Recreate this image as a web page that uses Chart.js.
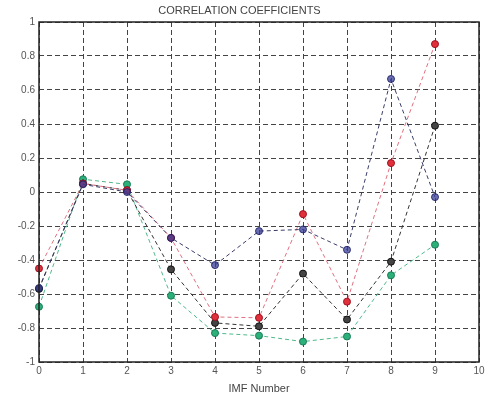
<!DOCTYPE html>
<html><head><meta charset="utf-8">
<script src="https://cdn.jsdelivr.net/npm/chart.js@4/dist/chart.umd.min.js"></script>
<style>html,body{margin:0;padding:0;background:#fff}#wrap{width:502px;height:396px}</style>
</head><body><div id="wrap"><canvas id="c"></canvas></div>
<script>
const imf = [0,1,2,3,4,5,6,7,8,9];
const xTicks = [0,1,2,3,4,5,6,7,8,9,10];
const yTicks = [-1,-0.8,-0.6,-0.4,-0.2,0,0.2,0.4,0.6,0.8,1];
const greenVals = [-0.675,0.075,0.045,-0.61,-0.83,-0.845,-0.88,-0.85,-0.49,-0.31];
const blackVals = [-0.57,0.05,0.01,-0.455,-0.77,-0.79,-0.48,-0.75,-0.41,0.39];
const blueVals  = [-0.565,0.045,0.0,-0.27,-0.43,-0.23,-0.22,-0.34,0.665,-0.03];
const redVals   = [-0.45,0.05,0.01,-0.27,-0.735,-0.74,-0.13,-0.645,0.17,0.87];

function ds(vals, line, fill, edge){
  return {data: imf.map((x,i)=>({x:x,y:vals[i]})), borderColor: line, borderWidth: 1,
    borderDash:[4,3], backgroundColor: fill, pointBackgroundColor: fill, pointBorderColor: edge,
    pointBorderWidth: 1, pointRadius: 3.5, pointStyle:'circle', showLine:true, fill:false, tension:0, clip:false};
}
const frame = {id:'frame', afterDatasetsDraw(c){
  const a=c.chartArea, ctx=c.ctx; ctx.save(); ctx.strokeStyle='#222'; ctx.lineWidth=1.5; ctx.setLineDash([]);
  ctx.strokeRect(a.left,a.top,a.right-a.left,a.bottom-a.top); ctx.restore();}};
const font = {family:'Liberation Sans, Arial, sans-serif', size:10};
new Chart(document.getElementById('c'), {
  type:'scatter',
  data:{datasets:[
    ds(blueVals,'#3a3d6a','rgba(58,63,152,0.75)','rgba(28,31,96,0.85)'),
    ds(redVals,'#e07080','#e0303c','#a01020'),
    ds(blackVals,'#333333','#444444','#111111'),
    ds(greenVals,'#4fb88a','#2bb079','#1a7a55')
  ]},
  options:{responsive:true, maintainAspectRatio:false, animation:false,
    layout:{padding:{left:0,right:23,top:0,bottom:0}},
    plugins:{legend:{display:false}, tooltip:{enabled:false},
      title:{display:true, text:'CORRELATION COEFFICIENTS', color:'#444', font:{family:font.family,size:11,weight:'normal'}, padding:{top:4,bottom:4.8}}},
    scales:{
      x:{type:'linear', min:0, max:10, afterBuildTicks:s=>{s.ticks=xTicks.map(v=>({value:v}));},
        afterFit:s=>{s.height=34;},
        grid:{color:'#444', lineWidth:1, drawTicks:false, tickLength:0},
        border:{display:false, dash:[5,3]},
        ticks:{color:'#555', font:font, padding:3, maxRotation:0, autoSkip:false},
        title:{display:true, text:'IMF Number', color:'#444', font:{family:font.family,size:11}, padding:{top:0,bottom:0}}},
      y:{type:'linear', min:-1, max:1, afterBuildTicks:s=>{s.ticks=yTicks.map(v=>({value:v}));},
        afterFit:s=>{s.width=39;},
        grid:{color:'#444', lineWidth:1, drawTicks:false},
        border:{display:false, dash:[5,3]},
        ticks:{color:'#555', font:font, padding:4, autoSkip:false, callback:v=>String(Math.round(v*10)/10)}}
    }
  },
  plugins:[frame]
});
</script></body></html>
